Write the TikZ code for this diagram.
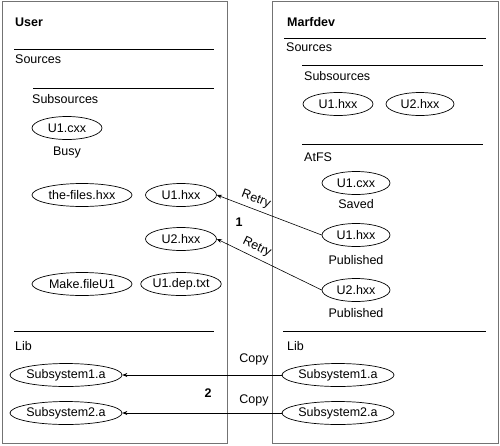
\documentclass[tikz,border=0pt]{standalone}
\usepackage{fontspec}
\setmainfont{Liberation Sans}
\usetikzlibrary{shapes.geometric,arrows.meta}
\begin{document}
\begin{tikzpicture}[x=1pt,y=-1pt,
  every node/.style={font=\fontsize{12.5}{14}\selectfont, inner sep=0pt},
  file/.style={draw, ellipse, line width=0.7pt, minimum height=23pt},
  lbl/.style={anchor=west},
  hdr/.style={anchor=west, font=\fontsize{12.5}{14}\selectfont\bfseries},
  frame/.style={draw=black!55, line width=1pt},
  sep/.style={draw, line width=0.6pt},
  conn/.style={draw, line width=0.6pt, -{Stealth[length=5pt,width=4pt]}}]
\useasboundingbox (0,0) rectangle (500,445);
% boxes
\draw[frame] (2,1.5) rectangle (227.5,443.5);
\draw[frame] (272,1.5) rectangle (498,443.5);
% left side
\node[hdr] (user) at (15,22) {User};
\draw[sep] (14,49) -- (214,49);
\node[lbl] (lsrc) at (15,59) {Sources};
\draw[sep] (33,88) -- (214,88);
\node[lbl] (lsub) at (32,99) {Subsources};
\node[file, minimum width=70pt] (lU1c) at (67,128) {U1.cxx};
\node (busy) at (67,152) {Busy};
\node[file, minimum width=100pt] (files) at (82,195) {the-files.hxx};
\node[file, minimum width=71pt] (lU1h) at (181,195) {U1.hxx};
\node[file, minimum width=71pt] (lU2h) at (181,239) {U2.hxx};
\node[file, minimum width=100pt] (make) at (82,284) {Make.fileU1};
\node[file, minimum width=71pt] (dep) at (181,284) {U1.dep.txt};
\draw[sep] (14,331) -- (214,331);
\node[lbl] (llib) at (15,346) {Lib};
\node[file, minimum width=108pt] (lS1) at (66,375) {Subsystem1.a};
\node[file, minimum width=108pt] (lS2) at (66,413) {Subsystem2.a};
% right side
\node[hdr] (marf) at (287,22) {Marfdev};
\draw[sep] (284,38) -- (486,38);
\node[lbl] (rsrc) at (286,47) {Sources};
\draw[sep] (302,65) -- (483,65);
\node[lbl] (rsub) at (304,76) {Subsources};
\node[file, minimum width=70pt] (rsU1) at (338,104) {U1.hxx};
\node[file, minimum width=68pt] (rsU2) at (420,104) {U2.hxx};
\draw[sep] (302,144) -- (483,144);
\node[lbl] (atfs) at (304,157) {AtFS};
\node[file, minimum width=68pt] (rU1c) at (356,183) {U1.cxx};
\node (saved) at (356,204) {Saved};
\node[file, minimum width=68pt] (rU1h) at (356,235) {U1.hxx};
\node (pub1) at (356,260) {Published};
\node[file, minimum width=68pt] (rU2h) at (356,290) {U2.hxx};
\node (pub2) at (356,313) {Published};
\draw[sep] (283,331) -- (486,331);
\node[lbl] (rlib) at (287,346) {Lib};
\node[file, minimum width=107pt] (rS1) at (338,375) {Subsystem1.a};
\node[file, minimum width=107pt] (rS2) at (338,413) {Subsystem2.a};
% connectors
\draw[conn] (rU1h.west) -- node[sloped, above=4pt, pos=0.66] {Retry} (lU1h.east);
\draw[conn] (rU2h.west) -- node[sloped, above=4pt, pos=0.66] {Retry} (lU2h.east);
\draw[conn] (rS1.west) -- (lS1.east);
\draw[conn] (rS2.west) -- (lS2.east);
\node (copy1) at (254,359) {Copy};
\node (copy2) at (254,400) {Copy};
\node[font=\fontsize{12.5}{14}\selectfont\bfseries] (one) at (239,222) {1};
\node[font=\fontsize{12.5}{14}\selectfont\bfseries] (two) at (208,393) {2};
\end{tikzpicture}
\end{document}
